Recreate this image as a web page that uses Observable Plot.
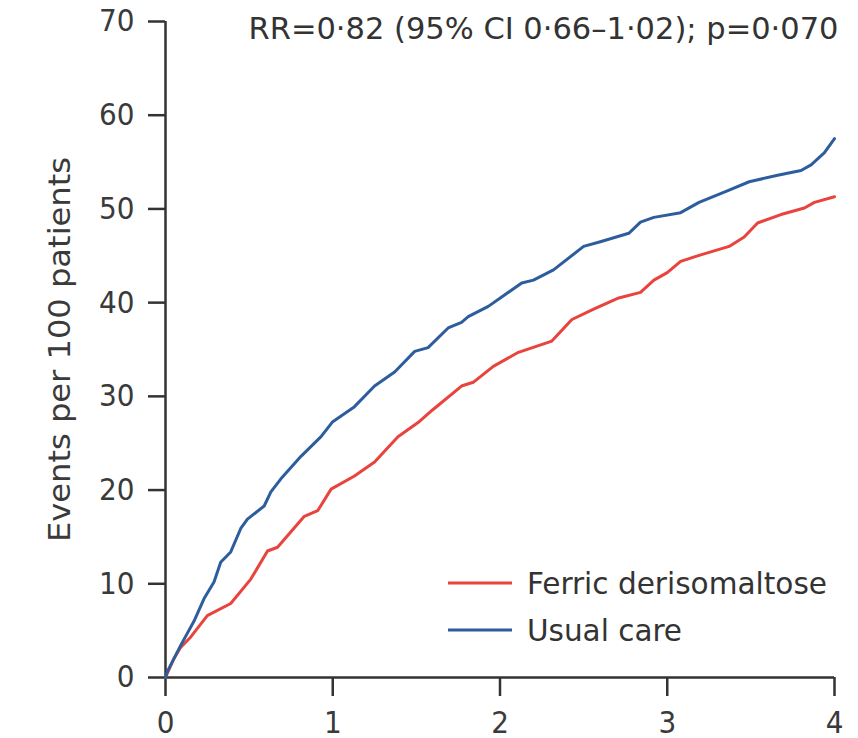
<!DOCTYPE html>
<html>
<head>
<meta charset="utf-8">
<script src="https://cdn.jsdelivr.net/npm/d3@7"></script>
<script src="https://cdn.jsdelivr.net/npm/@observablehq/plot@0.6"></script>
<style>
  html, body { margin: 0; padding: 0; background: #fff; }
  #wrap { position: relative; width: 858px; height: 738px; }
  #legend { position: absolute; left: 0; top: 0; pointer-events: none; }
</style>
</head>
<body>
<div id="wrap"></div>
<script>
// ---- data ----
const seriesNames = ["Ferric derisomaltose", "Usual care"];
const seriesColors = ["#e8433c", "#2d5d9c"];

const tUsual = [0, 0.01, 0.09, 0.17, 0.23, 0.29, 0.33, 0.39, 0.45, 0.49, 0.59, 0.63, 0.69, 0.81, 0.93, 1.0, 1.05, 1.13, 1.25, 1.37, 1.49, 1.57, 1.69, 1.77, 1.81, 1.93, 2.01, 2.13, 2.2, 2.32, 2.5, 2.6, 2.77, 2.84, 2.92, 3.08, 3.19, 3.37, 3.49, 3.66, 3.8, 3.86, 3.94, 4.0];
const vUsual = [0, 0.6, 3.4, 6.0, 8.4, 10.2, 12.3, 13.4, 15.9, 16.9, 18.3, 19.8, 21.2, 23.6, 25.7, 27.3, 27.9, 28.9, 31.1, 32.6, 34.8, 35.2, 37.3, 37.9, 38.5, 39.6, 40.6, 42.1, 42.4, 43.5, 46.0, 46.5, 47.4, 48.6, 49.1, 49.6, 50.7, 52.0, 52.9, 53.6, 54.1, 54.7, 56.0, 57.5];

const tFerric = [0, 0.05, 0.09, 0.15, 0.25, 0.39, 0.51, 0.61, 0.67, 0.83, 0.91, 0.99, 1.13, 1.25, 1.39, 1.51, 1.6, 1.77, 1.84, 1.96, 2.11, 2.31, 2.43, 2.56, 2.71, 2.84, 2.92, 3.0, 3.08, 3.2, 3.37, 3.46, 3.54, 3.68, 3.82, 3.88, 4.0];
const vFerric = [0, 2.0, 3.2, 4.3, 6.6, 7.9, 10.5, 13.5, 13.9, 17.2, 17.8, 20.1, 21.5, 23.0, 25.7, 27.2, 28.6, 31.1, 31.5, 33.2, 34.7, 35.9, 38.2, 39.3, 40.5, 41.1, 42.4, 43.2, 44.4, 45.1, 46.0, 47.0, 48.5, 49.4, 50.1, 50.7, 51.3];

const xTicks = [0, 1, 2, 3, 4];
const yTicks = [0, 10, 20, 30, 40, 50, 60, 70];
const yLabel = "Events per 100 patients";
const annotation = "RR=0·82 (95% CI 0·66–1·02); p=0·070";

// ---- build table ----
const rows = [
  ...tFerric.map((t, i) => ({t, v: vFerric[i], s: seriesNames[0]})),
  ...tUsual.map((t, i) => ({t, v: vUsual[i], s: seriesNames[1]}))
];

const font = '"DejaVu Sans Condensed", "Liberation Sans Narrow", sans-serif';

const chart = Plot.plot({
  width: 858,
  height: 738,
  marginLeft: 165,
  marginRight: 24,
  marginTop: 21,
  marginBottom: 61,
  style: {fontFamily: font, color: "#333", background: "#fff", overflow: "visible"},
  x: {domain: [0, 4], ticks: xTicks},
  y: {domain: [0, 70], ticks: yTicks},
  color: {domain: seriesNames, range: seriesColors},
  marks: [
    Plot.axisY({ticks: yTicks, tickSize: 17, tickPadding: 14, tickFormat: d => String(d), fontSize: 31, stroke: "#333", strokeWidth: 2.5, fill: "#3a3a3a", label: yLabel, labelAnchor: "center", labelArrow: "none", labelOffset: 118}),
    Plot.axisX({ticks: xTicks, tickSize: 19, tickPadding: 14, tickFormat: d => String(d), fontSize: 31, stroke: "#333", strokeWidth: 2.5, fill: "#3a3a3a", label: null}),
    Plot.ruleX([0], {y1: 0, y2: 70, stroke: "#333", strokeWidth: 2.5}),
    Plot.ruleY([0], {x1: 0, x2: 4, stroke: "#333", strokeWidth: 2.5}),
    Plot.line(rows, {x: "t", y: "v", z: "s", stroke: "s", strokeWidth: 3}),
    Plot.text([annotation], {frameAnchor: "top-right", dx: 4, dy: 8, lineAnchor: "middle", textAnchor: "end", fontSize: 30, fill: "#333"})
  ]
});

const wrap = document.getElementById("wrap");
wrap.appendChild(chart);

// fit text widths to the reference (narrow humanist face)
chart.querySelectorAll("g[aria-label='y-axis label'] text").forEach(t => {
  t.setAttribute("font-size", 31);
  t.setAttribute("textLength", 385);
  t.setAttribute("lengthAdjust", "spacingAndGlyphs");
});
chart.querySelectorAll("g[aria-label='text'] text").forEach(t => {
  t.setAttribute("textLength", 590);
  t.setAttribute("lengthAdjust", "spacingAndGlyphs");
});

// legend overlay
const ns = "http://www.w3.org/2000/svg";
const lg = document.createElementNS(ns, "svg");
lg.setAttribute("id", "legend");
lg.setAttribute("width", 858);
lg.setAttribute("height", 738);
const legendWidths = [300, 155];
seriesNames.forEach((n, i) => {
  const cy = 583 + i * 47;
  const ln = document.createElementNS(ns, "line");
  ln.setAttribute("x1", 448); ln.setAttribute("x2", 512);
  ln.setAttribute("y1", cy); ln.setAttribute("y2", cy);
  ln.setAttribute("stroke", seriesColors[i]);
  ln.setAttribute("stroke-width", 3);
  lg.appendChild(ln);
  const tx = document.createElementNS(ns, "text");
  tx.setAttribute("x", 527);
  tx.setAttribute("y", cy);
  tx.setAttribute("dy", "0.36em");
  tx.setAttribute("font-family", font);
  tx.setAttribute("font-size", 31);
  tx.setAttribute("fill", "#333");
  tx.setAttribute("textLength", legendWidths[i]);
  tx.setAttribute("lengthAdjust", "spacingAndGlyphs");
  tx.textContent = n;
  lg.appendChild(tx);
});
wrap.appendChild(lg);
</script>
</body>
</html>
